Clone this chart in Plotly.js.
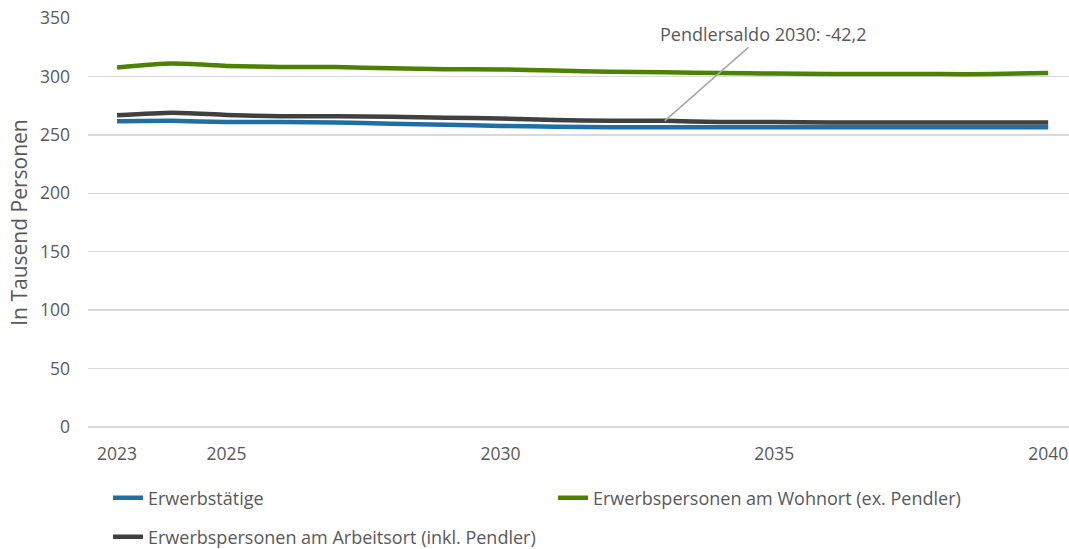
<!DOCTYPE html>
<html>
<head>
<meta charset="utf-8">
<script src="https://cdn.plot.ly/plotly-3.0.1.min.js"></script>
<style>html,body{margin:0;padding:0;background:#fff;}#chart{width:1069px;height:549px;}</style>
</head>
<body>
<div id="chart"></div>
<script>
const years = [2023,2024,2025,2026,2027,2028,2029,2030,2031,2032,2033,2034,2035,2036,2037,2038,2039,2040];
const erwerbstaetige = [261.6,262.0,261.0,261.0,260.5,259.6,258.7,257.6,257.0,256.5,256.5,256.5,256.5,256.5,256.5,256.5,256.5,256.5];
const wohnort = [307.7,311.0,309.0,308.0,308.0,307.0,306.2,306.0,305.0,304.0,303.5,303.0,302.5,302.0,302.0,302.0,302.0,303.0];
const arbeitsort = [266.7,269.0,267.0,266.0,266.0,265.5,264.7,264.0,262.7,262.0,262.0,261.0,261.0,260.5,260.5,260.5,260.5,260.5];
const seriesNames = ["Erwerbstätige","Erwerbspersonen am Wohnort (ex. Pendler)","Erwerbspersonen am Arbeitsort (inkl. Pendler)"];
const tickYears = [2023,2025,2030,2035,2040];
const annotationText = "Pendlersaldo 2030: -42,2";
const annotationYear = 2033;

const FONT = "Open Sans, sans-serif";
const TXT = "#595959";

const mk = (y, name, color, legend) => ({
  x: years, y: y, name: name, type: "scatter", mode: "lines",
  line: {color: color, width: 4.5, shape: "spline", smoothing: 0.6},
  legend: legend, hoverinfo: "x+y+name"
});

const data = [
  mk(erwerbstaetige, seriesNames[0], "#1F6FA5", "legend"),
  mk(wohnort, seriesNames[1], "#4D8102", "legend"),
  mk(arbeitsort, seriesNames[2], "#404040", "legend2")
];

const layout = {
  width: 1069, height: 549,
  margin: {l: 88, r: 0, t: 18, b: 122, autoexpand: false},
  paper_bgcolor: "#fff", plot_bgcolor: "#fff",
  font: {family: FONT, size: 18, color: TXT},
  showlegend: true,
  xaxis: {
    range: [2022.47, 2040.38],
    tickmode: "array", tickvals: tickYears, ticktext: tickYears.map(String),
    showgrid: false, zeroline: false, showline: false, ticks: "",
    tickfont: {family: FONT, size: 17.5, color: TXT},
    ticklabelstandoff: 14, automargin: false
  },
  yaxis: {
    range: [0, 350], dtick: 50, tick0: 0,
    showgrid: true, gridcolor: "#D9D9D9", gridwidth: 1.3,
    zeroline: true, zerolinecolor: "#D9D9D9", zerolinewidth: 1.3,
    showline: false, ticks: "",
    tickfont: {family: FONT, size: 17.5, color: TXT},
    ticklabelstandoff: 17, automargin: false,
    title: {text: "In Tausend Personen", font: {family: FONT, size: 21, color: TXT}, standoff: 6}
  },
  legend: {
    orientation: "h", x: 0.0204, xanchor: "left", y: -0.1736, yanchor: "middle",
    entrywidth: 400, entrywidthmode: "pixels",
    font: {family: FONT, size: 18, color: TXT}, bgcolor: "rgba(0,0,0,0)"
  },
  legend2: {
    orientation: "h", x: 0.0204, xanchor: "left", y: -0.269, yanchor: "middle",
    font: {family: FONT, size: 18, color: TXT}, bgcolor: "rgba(0,0,0,0)"
  },
  annotations: [{
    x: annotationYear, y: arbeitsort[years.indexOf(annotationYear)], xref: "x", yref: "y",
    text: annotationText, showarrow: true, arrowhead: 0, arrowwidth: 1.5, arrowcolor: "#A6A6A6",
    ax: 99, ay: -87, font: {family: FONT, size: 18, color: TXT}
  }]
};

Plotly.newPlot("chart", data, layout, {displayModeBar: false, staticPlot: true});
</script>
</body>
</html>
